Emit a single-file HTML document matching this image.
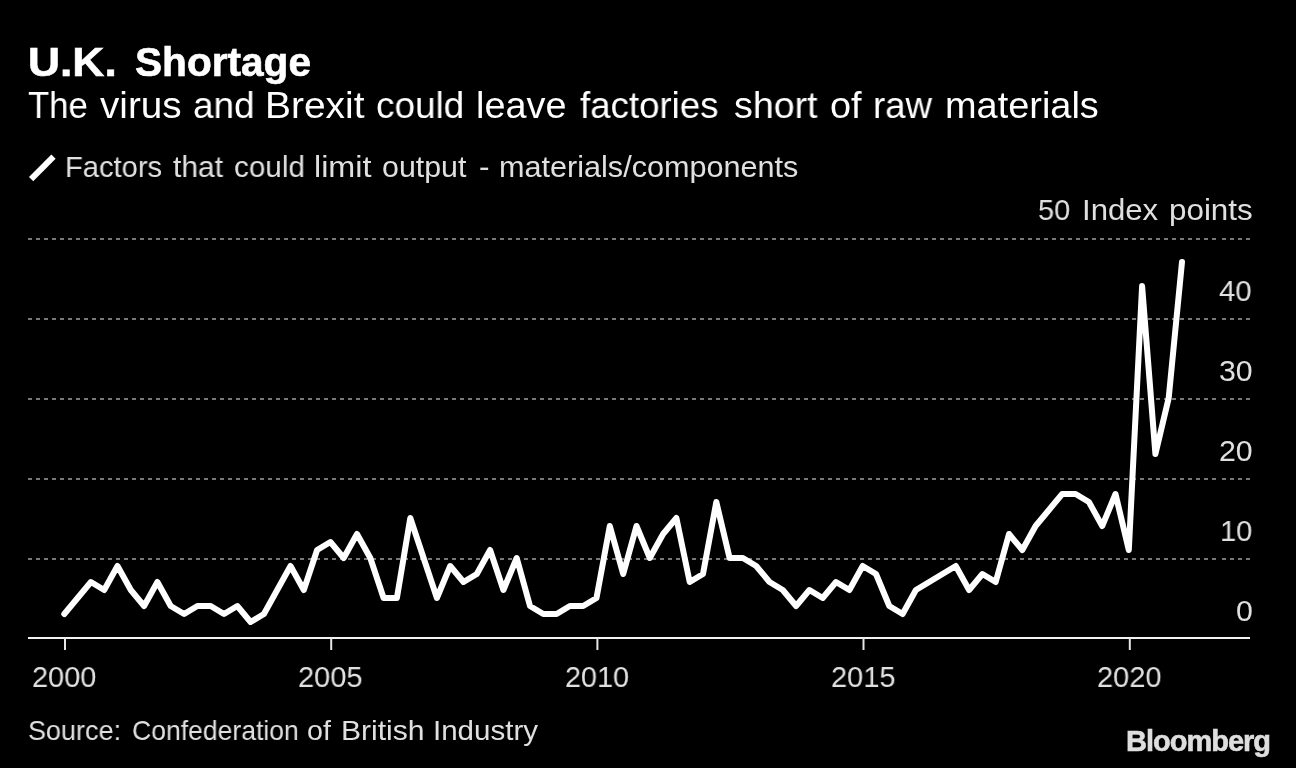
<!DOCTYPE html>
<html><head><meta charset="utf-8"><title>U.K. Shortage</title>
<style>
html,body{margin:0;padding:0;background:#000;}
body{width:1296px;height:768px;position:relative;overflow:hidden;font-family:"Liberation Sans",sans-serif;color:#fff;}
.t{position:absolute;white-space:nowrap;line-height:1;transform-origin:0 0;will-change:transform;}
#logo{left:1125.6px;top:726.7px;font-size:29px;font-weight:bold;color:#dedede;letter-spacing:-1.0px;-webkit-text-stroke:0.6px #dedede;}
svg{position:absolute;left:0;top:0;}
</style></head><body>
<svg width="1296" height="768" viewBox="0 0 1296 768">
<g stroke="#787878" stroke-width="2" stroke-dasharray="4 4" fill="none"><line x1="28" x2="1220" y1="239" y2="239"/><line x1="1222" x2="1252" y1="239" y2="239"/><line x1="28" x2="1220" y1="319" y2="319"/><line x1="1222" x2="1252" y1="319" y2="319"/><line x1="28" x2="1220" y1="399" y2="399"/><line x1="1222" x2="1252" y1="399" y2="399"/><line x1="28" x2="1220" y1="479" y2="479"/><line x1="1222" x2="1252" y1="479" y2="479"/><line x1="28" x2="1220" y1="559" y2="559"/><line x1="1222" x2="1252" y1="559" y2="559"/></g>
<rect x="28" y="637" width="1222" height="2" fill="#f2f2f2"/>
<g fill="#e6e6e6"><rect x="64" y="638" width="2" height="12"/><rect x="330.2" y="638" width="2" height="12"/><rect x="596.4" y="638" width="2" height="12"/><rect x="862.5" y="638" width="2" height="12"/><rect x="1128.8" y="638" width="2" height="12"/></g>
<polyline points="64.3,614.0 77.6,598.0 90.9,582.0 104.2,590.0 117.5,566.0 130.8,590.0 144.1,606.0 157.4,582.0 170.7,606.0 184.1,614.0 197.4,606.0 210.7,606.0 224.0,614.0 237.3,606.0 250.6,622.0 263.9,614.0 277.2,590.0 290.5,566.0 303.8,590.0 317.1,550.0 330.4,542.0 343.7,558.0 357.0,534.0 370.3,558.0 383.6,598.0 396.9,598.0 410.3,518.0 423.6,558.0 436.9,598.0 450.2,566.0 463.5,582.0 476.8,574.0 490.1,550.0 503.4,590.0 516.7,558.0 530.0,606.0 543.3,614.0 556.6,614.0 569.9,606.0 583.2,606.0 596.5,598.0 609.8,526.0 623.2,574.0 636.5,526.0 649.8,558.0 663.1,534.0 676.4,518.0 689.7,582.0 703.0,574.0 716.3,502.0 729.6,558.0 742.9,558.0 756.2,566.0 769.5,582.0 782.8,590.0 796.1,606.0 809.4,590.0 822.7,598.0 836.0,582.0 849.4,590.0 862.7,566.0 876.0,574.0 889.3,606.0 902.6,614.0 915.9,590.0 929.2,582.0 942.5,574.0 955.8,566.0 969.1,590.0 982.4,574.0 995.7,582.0 1009.0,534.0 1022.3,550.0 1035.6,526.0 1048.9,510.0 1062.2,494.0 1075.6,494.0 1088.9,502.0 1102.2,526.0 1115.5,494.0 1128.8,550.0 1142.1,286.0 1155.4,454.0 1168.7,398.0 1182.0,262.0" fill="none" stroke="#fff" stroke-width="6" stroke-linejoin="round" stroke-linecap="round"/>
<line x1="31.1" y1="179.1" x2="53.5" y2="156.6" stroke="#fff" stroke-width="6"/>
</svg>
<div class="t" style="left:28.38px;top:43px;font-size:40.2px;font-weight:bold;color:#fff;transform:scaleX(1.1040);-webkit-text-stroke:0.6px #fff;">U.K.</div>
<div class="t" style="left:134.98px;top:43px;font-size:40.2px;font-weight:bold;color:#fff;transform:scaleX(1.0103);-webkit-text-stroke:0.6px #fff;">Shortage</div>
<div class="t" style="left:28.48px;top:87px;font-size:37.8px;color:#fff;transform:scaleX(0.9191);">The</div>
<div class="t" style="left:100.33px;top:87px;font-size:37.8px;color:#fff;transform:scaleX(1.0222);">virus</div>
<div class="t" style="left:192.81px;top:87px;font-size:37.8px;color:#fff;transform:scaleX(0.9772);">and</div>
<div class="t" style="left:264.83px;top:87px;font-size:37.8px;color:#fff;transform:scaleX(1.0300);">Brexit</div>
<div class="t" style="left:375.65px;top:87px;font-size:37.8px;color:#fff;transform:scaleX(0.9766);">could</div>
<div class="t" style="left:475.51px;top:87px;font-size:37.8px;color:#fff;transform:scaleX(1.0011);">leave</div>
<div class="t" style="left:580.34px;top:87px;font-size:37.8px;color:#fff;transform:scaleX(0.9692);">factories</div>
<div class="t" style="left:733.78px;top:87px;font-size:37.8px;color:#fff;transform:scaleX(0.9936);">short</div>
<div class="t" style="left:829.74px;top:87px;font-size:37.8px;color:#fff;transform:scaleX(1.0014);">of</div>
<div class="t" style="left:873.19px;top:87px;font-size:37.8px;color:#fff;transform:scaleX(0.9707);">raw</div>
<div class="t" style="left:945.30px;top:87px;font-size:37.8px;color:#fff;transform:scaleX(1.0028);">materials</div>
<div class="t" style="left:65.27px;top:152px;font-size:30.35px;color:#e0e0e0;transform:scaleX(0.9593);">Factors</div>
<div class="t" style="left:173.41px;top:152px;font-size:30.35px;color:#e0e0e0;transform:scaleX(0.9877);">that</div>
<div class="t" style="left:233.77px;top:152px;font-size:30.35px;color:#e0e0e0;transform:scaleX(0.9769);">could</div>
<div class="t" style="left:313.53px;top:152px;font-size:30.35px;color:#e0e0e0;transform:scaleX(1.0656);">limit</div>
<div class="t" style="left:381.70px;top:152px;font-size:30.35px;color:#e0e0e0;transform:scaleX(1.0004);">output</div>
<div class="t" style="left:479.05px;top:152px;font-size:30.35px;color:#e0e0e0;transform:scaleX(1.0419);">-</div>
<div class="t" style="left:498.65px;top:152px;font-size:30.35px;color:#e0e0e0;transform:scaleX(1.0086);">materials/components</div>
<div class="t" style="left:1037.61px;top:195px;font-size:30px;color:#e0e0e0;transform:scaleX(0.9628);">50</div>
<div class="t" style="left:1081.79px;top:195px;font-size:30px;color:#e0e0e0;transform:scaleX(1.0380);">Index</div>
<div class="t" style="left:1168.81px;top:195px;font-size:30px;color:#e0e0e0;transform:scaleX(1.0455);">points</div>
<div class="t" style="left:27.68px;top:715.5px;font-size:28.3px;color:#e0e0e0;transform:scaleX(0.9539);">Source:</div>
<div class="t" style="left:131.77px;top:715.5px;font-size:28.3px;color:#e0e0e0;transform:scaleX(0.9381);">Confederation</div>
<div class="t" style="left:307.49px;top:715.5px;font-size:28.3px;color:#e0e0e0;transform:scaleX(1.0129);">of</div>
<div class="t" style="left:341.32px;top:715.5px;font-size:28.3px;color:#e0e0e0;transform:scaleX(1.0631);">British</div>
<div class="t" style="left:433.14px;top:715.5px;font-size:28.3px;color:#e0e0e0;transform:scaleX(1.0428);">Industry</div>
<div class="t" style="left:1219.39px;top:275.7px;font-size:30.3px;color:#e0e0e0;transform:scaleX(0.9713);">40</div>
<div class="t" style="left:1218.59px;top:355.7px;font-size:30.3px;color:#e0e0e0;transform:scaleX(0.9991);">30</div>
<div class="t" style="left:1218.53px;top:435.7px;font-size:30.3px;color:#e0e0e0;transform:scaleX(1.0011);">20</div>
<div class="t" style="left:1219.82px;top:515.7px;font-size:30.3px;color:#e0e0e0;transform:scaleX(0.9613);">10</div>
<div class="t" style="left:1235.75px;top:595.7px;font-size:30.3px;color:#e0e0e0;transform:scaleX(0.9731);">0</div>
<div class="t" style="left:31.70px;top:662px;font-size:30.3px;color:#e0e0e0;transform:scaleX(0.9552);">2000</div>
<div class="t" style="left:298.09px;top:662px;font-size:30.3px;color:#e0e0e0;transform:scaleX(0.9577);">2005</div>
<div class="t" style="left:565.30px;top:662px;font-size:30.3px;color:#e0e0e0;transform:scaleX(0.9506);">2010</div>
<div class="t" style="left:831.09px;top:662px;font-size:30.3px;color:#e0e0e0;transform:scaleX(0.9577);">2015</div>
<div class="t" style="left:1097.29px;top:662px;font-size:30.3px;color:#e0e0e0;transform:scaleX(0.9583);">2020</div>
<div class="t" id="logo">Bloomberg</div>
</body></html>
